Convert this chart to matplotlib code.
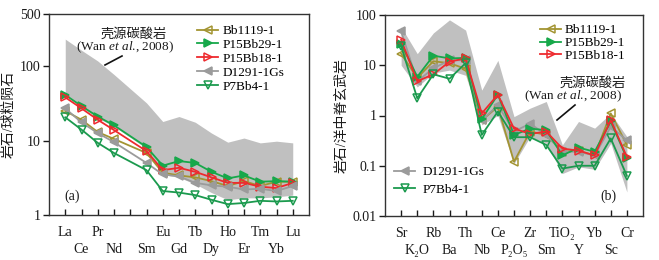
import matplotlib
matplotlib.use('Agg')
import matplotlib.pyplot as plt
from matplotlib.lines import Line2D
from matplotlib.ticker import FixedLocator, FixedFormatter, NullLocator

plt.rcParams['font.family'] = ['Liberation Serif', 'DejaVu Serif', 'Noto Sans CJK SC']
plt.rcParams['mathtext.fontset'] = 'custom'
plt.rcParams['mathtext.rm'] = 'Liberation Serif'
plt.rcParams['mathtext.it'] = 'Liberation Serif:italic'
plt.rcParams['mathtext.bf'] = 'Liberation Serif:bold'

# ---------------- data: panel (a) REE / chondrite ----------------
ree = ['La', 'Ce', 'Pr', 'Nd', 'Sm', 'Eu', 'Gd', 'Tb', 'Dy', 'Ho', 'Er', 'Tm', 'Yb', 'Lu']
ree_slots = ['La', 'Ce', 'Pr', 'Nd', 'Pm', 'Sm', 'Eu', 'Gd', 'Tb', 'Dy', 'Ho', 'Er', 'Tm', 'Yb', 'Lu']
ree_tick_labels = ['La', 'Ce', 'Pr', 'Nd', '', 'Sm', 'Eu', 'Gd', 'Tb', 'Dy', 'Ho', 'Er', 'Tm', 'Yb', 'Lu']

a_Bb1119 = [25, 19, 13, 10.5, 6.8, 3.7, 3.4, 3.2, 2.85, 2.45, 2.85, 2.45, 2.8, 2.8]
a_P15Bb29 = [41, 29, 21, 16, 8.2, 4.6, 5.3, 5.0, 3.8, 3.1, 3.4, 2.8, 2.85, 2.8]
a_P15Bb18 = [38, 27, 19, 13.8, 7.2, 4.0, 4.3, 3.8, 3.2, 2.7, 2.7, 2.4, 2.3, 2.7]
a_D1291 = [27, 17.5, 12.6, 9.5, 5.0, 3.5, 3.3, 2.7, 2.5, 2.4, 2.2, 2.25, 2.1, 2.45]
a_P7Bb4 = [20.5, 14, 9.3, 6.8, 4.0, 2.1, 2.0, 1.85, 1.6, 1.4, 1.45, 1.55, 1.52, 1.55]
a_band_hi = [230, 163, 117, 77, 32, 18, 21, 17.6, 12.6, 9.5, 10.8, 9.3, 9.8, 9.3]
a_band_lo = [40, 28, 20, 15.5, 7.8, 3.5, 3.2, 2.6, 2.0, 1.6, 1.7, 1.7, 1.75, 1.85]

# ---------------- data: panel (b) / MORB ----------------
morb = ['Sr', 'K2O', 'Rb', 'Ba', 'Th', 'Nb', 'Ce', 'P2O5', 'Zr', 'Sm', 'TiO2', 'Y', 'Yb', 'Sc', 'Cr']
morb_tick_labels = ['Sr', 'K₂O', 'Rb', 'Ba', 'Th', 'Nb', 'Ce', 'P₂O₅', 'Zr', 'Sm',
                    'TiO₂', 'Y', 'Yb', 'Sc', 'Cr']

b_Bb1119 = [17, 5.6, 12, 11, 8.5, 0.8, 1.5, 0.12, 0.48, 0.41, 0.19, 0.2, 0.16, 1.1, 0.26]
b_P15Bb29 = [27, 5.9, 15.5, 13.7, 14, 0.85, 2.6, 0.41, 0.55, 0.51, 0.16, 0.23, 0.19, 0.76, 0.14]
b_P15Bb18 = [32, 4.8, 6.6, 11.8, 13.7, 1.1, 2.6, 0.55, 0.43, 0.48, 0.22, 0.2, 0.16, 0.81, 0.15]
b_D1291 = [47, 4.8, 8.7, 12.5, 12.6, 0.8, 1.6, 0.48, 0.69, 0.41, 0.19, 0.19, 0.16, 0.6, 0.32]
b_P7Bb4 = [24, 2.2, 6.6, 5.4, 11, 0.41, 1.2, 0.37, 0.37, 0.26, 0.088, 0.10, 0.10, 0.35, 0.063]
b_band_hi = [58, 17, 44, 80, 50, 3.2, 12.5, 0.95, 1.4, 1.9, 0.26, 0.76, 0.56, 1.1, 0.38]
b_band_lo = [10, 3.7, 7, 8, 6.3, 0.65, 1.0, 0.11, 0.38, 0.28, 0.07, 0.095, 0.085, 0.28, 0.03]

# ---------------- styles ----------------
C_OLIVE = '#A39432'
C_GREEN = '#17A84A'
C_RED = '#EE2A2E'
C_GRAY = '#9B9B9B'
C_GREEN2 = '#1B9A4E'
C_BAND = '#C0C0C0'
TXT = '#1a1a1a'

series_a = [
    ('Bb1119-1', a_Bb1119, C_OLIVE, '<', 'none'),
    ('P15Bb29-1', a_P15Bb29, C_GREEN, '>', 'full'),
    ('P15Bb18-1', a_P15Bb18, C_RED, '>', 'none'),
    ('D1291-1Gs', a_D1291, C_GRAY, '<', 'full'),
    ('P7Bb4-1', a_P7Bb4, C_GREEN2, 'v', 'none'),
]
series_b = [
    ('Bb1119-1', b_Bb1119, C_OLIVE, '<', 'none'),
    ('D1291-1Gs', b_D1291, C_GRAY, '<', 'full'),
    ('P15Bb29-1', b_P15Bb29, C_GREEN, '>', 'full'),
    ('P15Bb18-1', b_P15Bb18, C_RED, '>', 'none'),
    ('P7Bb4-1', b_P7Bb4, C_GREEN2, 'v', 'none'),
]

fig = plt.figure(figsize=(6.59, 2.6), dpi=100)
W, H = 659.0, 260.0
axa = fig.add_axes([49 / W, (H - 215) / H, 260 / W, 201 / H])
axb = fig.add_axes([385 / W, (H - 216) / H, 258 / W, 201 / H])


def ptext(x, y, s, size=9.5):
    """Text centred at pixel position (x, y) measured from the top-left corner."""
    fig.text(x / W, 1 - y / H, s, fontsize=size, color=TXT, ha='center', va='center')


def pline(x0, y0, x1, y1):
    fig.add_artist(Line2D([x0 / W, x1 / W], [1 - y0 / H, 1 - y1 / H],
                          transform=fig.transFigure, color='#111111', lw=1.2))


def set_two_row_xticks(ax, labels):
    """Even positions labelled on the upper row (major ticks), odd on the lower row (minor)."""
    n = len(labels)
    top = list(range(0, n, 2))
    low = list(range(1, n, 2))
    ax.xaxis.set_major_locator(FixedLocator(top))
    ax.xaxis.set_major_formatter(FixedFormatter([labels[i] for i in top]))
    ax.xaxis.set_minor_locator(FixedLocator(low))
    ax.xaxis.set_minor_formatter(FixedFormatter([labels[i] for i in low]))
    ax.tick_params(axis='x', which='both', direction='in', length=4.5, width=1,
                   labelsize=10, colors=TXT)
    ax.tick_params(axis='x', which='major', pad=8)
    ax.tick_params(axis='x', which='minor', pad=20.5)


def style_axis(ax, nslots, ytick_vals, ytick_labs, ylim, ylabel):
    ax.set_yscale('log')
    ax.set_ylim(*ylim)
    ax.set_xlim(-1, nslots)
    ax.yaxis.set_major_locator(FixedLocator(ytick_vals))
    ax.yaxis.set_major_formatter(FixedFormatter(ytick_labs))
    ax.yaxis.set_minor_locator(NullLocator())
    ax.tick_params(axis='y', direction='out', length=4, width=1, labelsize=10,
                   colors=TXT, pad=2)
    for sp in ax.spines.values():
        sp.set_linewidth(1.0)
        sp.set_color('#333333')
    ax.set_ylabel(ylabel, fontsize=10, color=TXT, labelpad=3)


def plot_series(ax, xs, series):
    handles = {}
    for name, vals, col, mk, fill in series:
        kw = dict(color=col, lw=1.3, marker=mk, ms=6, mew=1.1, zorder=3)
        if fill == 'none':
            kw['mfc'] = 'none'
        h, = ax.plot(xs, vals, label=name, **kw)
        handles[name] = h
    return handles


# ---------------- panel (a) ----------------
ree_pos = [ree_slots.index(e) for e in ree]
axa.fill_between(ree_pos, a_band_lo, a_band_hi, color=C_BAND, lw=0, zorder=1)
ha = plot_series(axa, ree_pos, series_a)
style_axis(axa, len(ree_slots), [1, 10, 100, 500], ['1', '10', '100', '500'], (1, 500),
           '岩石/球粒陨石')
set_two_row_xticks(axa, ree_tick_labels)

order_a = ['Bb1119-1', 'P15Bb29-1', 'P15Bb18-1', 'D1291-1Gs', 'P7Bb4-1']
axa.legend([ha[n] for n in order_a], order_a, loc='upper left',
           bbox_to_anchor=((197 - 49) / 260, (215 - 25) / 201), frameon=False,
           fontsize=9.5, handlelength=1.6, handletextpad=0.35, labelspacing=0.12,
           borderpad=0, borderaxespad=0, numpoints=1)

ptext(134, 34, '壳源碳酸岩')
ptext(125, 47, '(Wan $\\it{et\\ al}$., 2008)')
pline(105, 65, 122, 56)
ptext(72, 196, '(a)', size=10)


# ---------------- panel (b) ----------------
morb_pos = list(range(len(morb)))
axb.fill_between(morb_pos, b_band_lo, b_band_hi, color=C_BAND, lw=0, zorder=1)
hb = plot_series(axb, morb_pos, series_b)
style_axis(axb, len(morb), [0.01, 0.1, 1, 10, 100], ['0.01', '0.1', '1', '10', '100'],
           (0.01, 100), '岩石/洋中脊玄武岩')
set_two_row_xticks(axb, morb_tick_labels)

order_b1 = ['Bb1119-1', 'P15Bb29-1', 'P15Bb18-1']
leg1 = axb.legend([hb[n] for n in order_b1], order_b1, loc='upper left',
                  bbox_to_anchor=((540 - 385) / 258, (216 - 24) / 201), frameon=False,
                  fontsize=9.5, handlelength=1.6, handletextpad=0.3, labelspacing=0.05,
                  borderpad=0, borderaxespad=0, numpoints=1)
axb.add_artist(leg1)
order_b2 = ['D1291-1Gs', 'P7Bb4-1']
axb.legend([hb[n] for n in order_b2], order_b2, loc='upper left',
           bbox_to_anchor=((394 - 385) / 258, (216 - 166) / 201), frameon=False,
           fontsize=9.5, handlelength=1.6, handletextpad=0.55, labelspacing=0.4,
           borderpad=0, borderaxespad=0, numpoints=1)

ptext(593, 83, '壳源碳酸岩')
ptext(573, 96, '(Wan $\\it{et\\ al}$., 2008)')
pline(557, 120, 575, 105)
ptext(608, 196, '(b)', size=10)

fig.savefig('out.png', dpi=100)
